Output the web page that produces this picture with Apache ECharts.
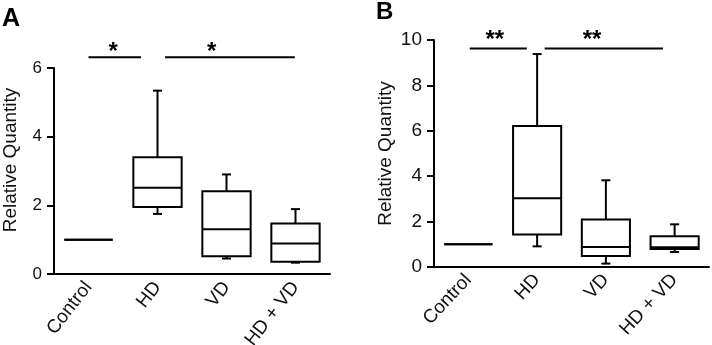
<!DOCTYPE html>
<html><head><meta charset="utf-8">
<script src="https://cdn.jsdelivr.net/npm/echarts@6/dist/echarts.min.js"></script>
<style>html,body{margin:0;padding:0;background:#fff}#c{width:712px;height:345px}</style>
</head><body><div id="c"></div>
<script>
// ---- data ----
const categories = ['Control', 'HD', 'VD', 'HD + VD'];
// [min, Q1, median, Q3, max] per category
const boxesA = [
  [1.00, 1.00, 1.00, 1.00, 1.00],
  [1.75, 1.95, 2.51, 3.40, 5.34],
  [0.45, 0.52, 1.30, 2.41, 2.90],
  [0.33, 0.36, 0.89, 1.47, 1.89]
];
const boxesB = [
  [1.00, 1.00, 1.00, 1.00, 1.00],
  [0.91, 1.43, 3.03, 6.21, 9.38],
  [0.15, 0.49, 0.88, 2.09, 3.82],
  [0.66, 0.79, 0.87, 1.35, 1.88]
];
const yTicksA = [0, 2, 4, 6];
const yTicksB = [0, 2, 4, 6, 8, 10];
// significance bars: [fromCategory, toCategory, yValue]
const sigA = [[0, 1, 6.31], [1, 3, 6.31]];
const sigLabelsA = ['*', '*'];
const sigB = [[0, 1, 9.63], [1, 3, 9.63]];
const sigLabelsB = ['**', '**'];
const yNameText = 'Relative Quantity';

// ---- styling / layout (not data) ----
const FONT = "'Liberation Sans', Arial, sans-serif";
// offsets of bar ends in band units, and star position along bar
const sigLayoutA = [{d0: 0.0, d1: -0.24, s: 0.47}, {d0: 0.11, d1: -0.01, s: 0.36}];
const sigLayoutB = [{d0: 0.02, d1: -0.15, s: 0.44}, {d0: 0.11, d1: -0.17, s: 0.40}];

function boxRender(params, api) {
  const i = api.value(0);
  const band = api.size([1, 0])[0];
  const hw = band * 0.35;
  const cap = 4.5;
  const pMin = api.coord([i, api.value(1)]);
  const pQ1 = api.coord([i, api.value(2)]);
  const pMed = api.coord([i, api.value(3)]);
  const pQ3 = api.coord([i, api.value(4)]);
  const pMax = api.coord([i, api.value(5)]);
  const x = pMed[0];
  const st = {stroke: '#000', lineWidth: 2, fill: null};
  const ln = (x1, y1, x2, y2) => ({type: 'line', shape: {x1, y1, x2, y2}, style: st});
  const children = [];
  if (pMax[1] < pQ3[1] - 0.5) {
    children.push(ln(x, pQ3[1], x, pMax[1]), ln(x - cap, pMax[1], x + cap, pMax[1]));
  }
  if (pMin[1] > pQ1[1] + 0.5) {
    children.push(ln(x, pQ1[1], x, pMin[1]), ln(x - cap, pMin[1], x + cap, pMin[1]));
  }
  children.push(
    {type: 'rect', shape: {x: x - hw, y: pQ3[1], width: 2 * hw, height: pQ1[1] - pQ3[1]}, style: {stroke: '#000', lineWidth: 2, fill: '#fff'}},
    ln(x - hw, pMed[1], x + hw, pMed[1])
  );
  return {type: 'group', children};
}

function sigRender(layout, labels, fontSize, dy) {
  return function (params, api) {
    const k = params.dataIndex;
    const L = layout[k];
    const band = api.size([1, 0])[0];
    const a = api.coord([api.value(0), api.value(2)]);
    const b = api.coord([api.value(1), api.value(2)]);
    const x0 = a[0] + L.d0 * band;
    const x1 = b[0] + L.d1 * band;
    const y = a[1];
    return {
      type: 'group',
      children: [
        {type: 'line', shape: {x1: x0, y1: y, x2: x1, y2: y}, style: {stroke: '#000', lineWidth: 2}},
        {type: 'text', style: {text: labels[k], x: x0 + (x1 - x0) * L.s, y: y - dy, align: 'center', verticalAlign: 'middle', font: 'bold ' + fontSize + 'px ' + FONT, fill: '#000'}}
      ]
    };
  };
}

function xAxisOpt(gi, fs, rot) {
  return {
    type: 'category', gridIndex: gi, data: categories,
    axisLine: {lineStyle: {color: '#000', width: 2}},
    axisTick: {alignWithLabel: true, length: 7, lineStyle: {color: '#000', width: 2}},
    axisLabel: {rotate: rot, fontSize: fs, fontFamily: FONT, color: '#111', margin: 10},
    splitLine: {show: false}
  };
}
function yAxisOpt(gi, ticks, fs, nameFs, gap, pad) {
  return {
    type: 'value', gridIndex: gi, min: ticks[0], max: ticks[ticks.length - 1], interval: ticks[1] - ticks[0],
    axisLine: {show: true, lineStyle: {color: '#000', width: 2}},
    axisTick: {show: true, length: 7, lineStyle: {color: '#000', width: 2}},
    axisLabel: {fontSize: fs, fontFamily: FONT, color: '#111', margin: 12},
    splitLine: {show: false},
    name: yNameText, nameLocation: 'middle', nameGap: gap,
    nameTextStyle: {fontSize: nameFs, fontFamily: FONT, color: '#111', padding: pad}
  };
}

const chart = echarts.init(document.getElementById('c'), null, {renderer: 'canvas'});
chart.setOption({
  animation: false,
  backgroundColor: '#fff',
  grid: [
    {left: 54, top: 68, width: 276, height: 206, containLabel: false, outerBoundsMode: 'none'},
    {left: 434, top: 40, width: 275, height: 227, containLabel: false, outerBoundsMode: 'none'}
  ],
  xAxis: [xAxisOpt(0, 19, 52), xAxisOpt(1, 19, 47)],
  yAxis: [yAxisOpt(0, yTicksA, 17, 19, 34, [0, 0, 0, 22]), yAxisOpt(1, yTicksB, 19, 19, 39, [0, 0, 0, 0])],
  graphic: [
    {type: 'text', left: 2, top: 7, style: {text: 'A', font: 'bold 25px ' + FONT, fill: '#000'}},
    {type: 'text', left: 376, top: 0, style: {text: 'B', font: 'bold 24px ' + FONT, fill: '#000'}}
  ],
  series: [
    {type: 'custom', xAxisIndex: 0, yAxisIndex: 0, renderItem: boxRender, data: boxesA.map((b, i) => [i].concat(b))},
    {type: 'custom', xAxisIndex: 1, yAxisIndex: 1, renderItem: boxRender, data: boxesB.map((b, i) => [i].concat(b))},
    {type: 'custom', xAxisIndex: 0, yAxisIndex: 0, clip: false, renderItem: sigRender(sigLayoutA, sigLabelsA, 24, 5), data: sigA},
    {type: 'custom', xAxisIndex: 1, yAxisIndex: 1, clip: false, renderItem: sigRender(sigLayoutB, sigLabelsB, 24, 8), data: sigB}
  ]
});
</script></body></html>
